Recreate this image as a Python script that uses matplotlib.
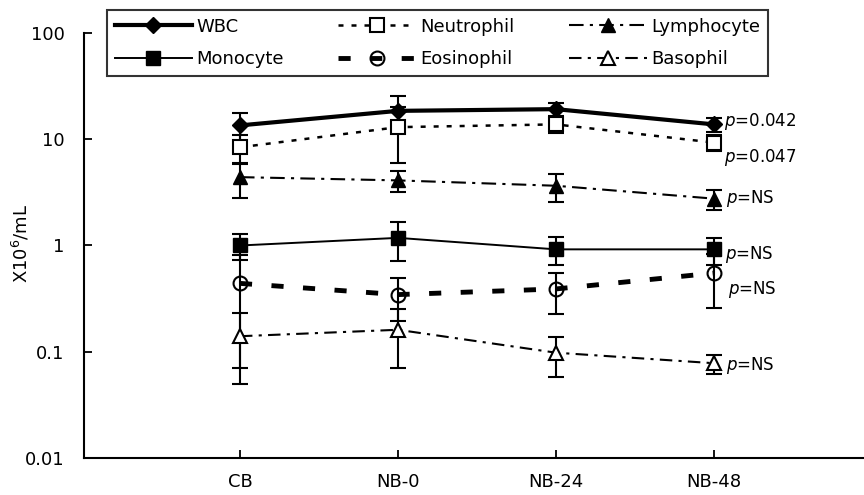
import matplotlib
matplotlib.use("Agg")
import matplotlib.pyplot as plt
import numpy as np

categories = ["CB", "NB-0", "NB-24", "NB-48"]

wbc = [13.5, 18.5, 19.2, 13.8]
wbc_sd = [4.0, 7.0, 2.7, 2.2]
neutrophil = [8.4, 13.0, 13.8, 9.3]
neutrophil_sd = [2.6, 7.0, 2.4, 1.6]
lymphocyte = [4.4, 4.1, 3.65, 2.76]
lymphocyte_sd = [1.6, 0.9, 1.1, 0.6]
monocyte = [1.0, 1.18, 0.92, 0.92]
monocyte_sd = [0.27, 0.47, 0.27, 0.26]
eosinophil = [0.44, 0.345, 0.39, 0.55]
eosinophil_sd = [0.37, 0.15, 0.165, 0.29]
basophil = [0.14, 0.161, 0.098, 0.078]
basophil_sd = [0.09, 0.09, 0.04, 0.016]

p_labels = ["$p$=0.042", "$p$=0.047", "$p$=NS", "$p$=NS", "$p$=NS", "$p$=NS"]
p_offsets = [(7, 2), (7, -11), (9, 0), (8, -4), (10, -12), (9, -2)]

fig = plt.figure(figsize=(8.64, 4.95), dpi=100)
ax = fig.add_axes([84 / 864, 1 - 458 / 495, 1 - 84 / 864, (458 - 33) / 495])

x = np.arange(len(categories))

series = [
    ("WBC", wbc, wbc_sd, dict(color="black", lw=3.0, ls="-", marker="D", ms=8.5, mfc="black", mec="black")),
    ("Monocyte", monocyte, monocyte_sd, dict(color="black", lw=1.4, ls="-", marker="s", ms=9.5, mfc="black", mec="black")),
    ("Neutrophil", neutrophil, neutrophil_sd, dict(color="black", lw=1.8, ls=(0, (2, 3.2)), marker="s", ms=9.5, mfc="white", mec="black", mew=1.5)),
    ("Eosinophil", eosinophil, eosinophil_sd, dict(color="black", lw=3.5, ls=(0, (2.5, 4)), marker="o", ms=10, mfc="none", mec="black", mew=1.5)),
    ("Lymphocyte", lymphocyte, lymphocyte_sd, dict(color="black", lw=1.5, ls=(0, (7, 3, 1.5, 3)), marker="^", ms=10, mfc="black", mec="black")),
    ("Basophil", basophil, basophil_sd, dict(color="black", lw=1.5, ls=(0, (6, 3, 1.5, 3)), marker="^", ms=10, mfc="white", mec="black", mew=1.5)),
]

handles = []
for name, vals, sds, st in series:
    ax.errorbar(x, vals, yerr=sds, fmt="none", ecolor="black", elinewidth=1.5,
                capsize=5.5, capthick=1.5, zorder=2)
    h, = ax.plot(x, vals, label=name, zorder=3, **st)
    handles.append(h)

# p-value labels at the last time point
order_for_p = ["WBC", "Neutrophil", "Lymphocyte", "Monocyte", "Eosinophil", "Basophil"]
lookup = {name: vals for name, vals, _, _ in series}
for name, lab, off in zip(order_for_p, p_labels, p_offsets):
    ax.annotate(lab, xy=(x[-1], lookup[name][-1]), xytext=off, textcoords="offset points",
                ha="left", va="center", fontsize=12)

ax.set_yscale("log")
ax.set_ylim(0.01, 100)
ax.set_xlim(-0.987, 3.95)
ax.set_yticks([0.01, 0.1, 1, 10, 100])
ax.set_yticklabels(["0.01", "0.1", "1", "10", "100"])
ax.minorticks_off()
ax.set_xticks(x)
ax.set_xticklabels(categories)
ax.tick_params(axis="both", direction="in", length=6, width=1.3, labelsize=13)
ax.tick_params(axis="x", pad=11)
ax.tick_params(axis="y", pad=14)
for s in ["top", "right"]:
    ax.spines[s].set_visible(False)
for s in ["left", "bottom"]:
    ax.spines[s].set_linewidth(1.5)
ax.set_ylabel("X10$^6$/mL", fontsize=13)
ax.yaxis.set_label_coords((31 - 84) / 780, 0.506)

leg = fig.legend(handles=handles, loc="upper left", bbox_to_anchor=(107 / 864, 1 - 10 / 495),
                 bbox_transform=fig.transFigure, ncol=3, fontsize=13, frameon=True,
                 fancybox=False, handlelength=4.3, columnspacing=3.0, labelspacing=0.8,
                 borderaxespad=0, borderpad=0.42, handletextpad=0.25)
leg.get_frame().set_edgecolor("black")
leg.get_frame().set_linewidth(1.5)

fig.savefig("out.png", dpi=100)
